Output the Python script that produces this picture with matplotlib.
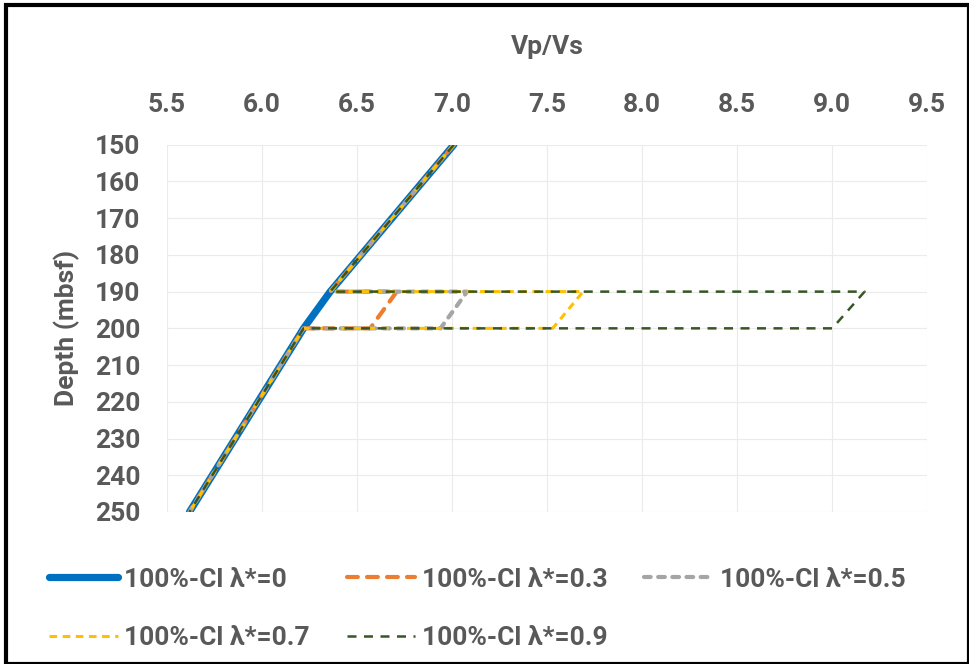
import matplotlib
matplotlib.use("Agg")
import matplotlib.pyplot as plt
from matplotlib.patches import Rectangle

plt.rcParams['font.family'] = ['Roboto', 'DejaVu Sans']

# profundidade (mbsf) e Vp/Vs por caso
depth = [150, 190, 190, 200, 200, 250]
vpvs_00 = [7.01, 6.36, 6.36, 6.22, 6.22, 5.62]
vpvs_03 = [7.01, 6.36, 6.71, 6.57, 6.22, 5.62]
vpvs_05 = [7.01, 6.36, 7.08, 6.94, 6.22, 5.62]
vpvs_07 = [7.01, 6.36, 7.69, 7.53, 6.22, 5.62]
vpvs_09 = [7.01, 6.36, 9.17, 9.00, 6.22, 5.62]

labels = ['100%-Cl λ*=0', '100%-Cl λ*=0.3', '100%-Cl λ*=0.5',
          '100%-Cl λ*=0.7', '100%-Cl λ*=0.9']
xticks = [5.5, 6.0, 6.5, 7.0, 7.5, 8.0, 8.5, 9.0, 9.5]
yticks = list(range(150, 251, 10))

cinza = '#595959'
fs = 19

fig = plt.figure(figsize=(9.69, 6.64), dpi=100)
ax = fig.add_axes([0.172, 0.229, 0.785, 0.553])

l0, = ax.plot(vpvs_00, depth, color='#0070C0', lw=5.2, solid_capstyle='round',
              solid_joinstyle='round', label=labels[0])
l1, = ax.plot(vpvs_03, depth, color='#ED7D31', lw=3.0, dashes=(2.6, 2.2),
              dash_capstyle='round', label=labels[1])
l2, = ax.plot(vpvs_05, depth, color='#A5A5A5', lw=3.0, dashes=(1.6, 1.8),
              dash_capstyle='round', label=labels[2])
l3, = ax.plot(vpvs_07, depth, color='#FFC000', lw=2.2, dashes=(2.5, 1.8),
              label=labels[3])
l4, = ax.plot(vpvs_09, depth, color='#375623', lw=1.8, dashes=(3.6, 3.0),
              label=labels[4])

ax.set_xlim(5.5, 9.5)
ax.set_ylim(250, 150)
ax.set_xticks(xticks)
ax.set_xticklabels(['%.1f' % v for v in xticks])
ax.set_yticks(yticks)
ax.xaxis.tick_top()
ax.xaxis.set_label_position('top')
ax.tick_params(axis='x', length=0, labelsize=fs, labelcolor=cinza, pad=20)
ax.tick_params(axis='y', length=0, labelsize=fs, labelcolor=cinza, pad=19)
for t in ax.get_xticklabels() + ax.get_yticklabels():
    t.set_fontweight('bold')
ax.set_xlabel('Vp/Vs', fontsize=fs, fontweight='bold', color=cinza, labelpad=28)
ax.set_ylabel('Depth (mbsf)', fontsize=fs, fontweight='bold', color=cinza, labelpad=11)
ax.grid(color='#EBEBEB', lw=0.8)
ax.set_axisbelow(True)
for s in ax.spines.values():
    s.set_visible(False)

# ordem para a legenda ficar em duas linhas (3 + 2)
hs = [l0, l3, l1, l4, l2]
leg = fig.legend(hs, [h.get_label() for h in hs], ncol=3, loc='upper left',
                 bbox_to_anchor=(0.026, 0.181), frameon=False, handlelength=2.6,
                 columnspacing=1.4, handletextpad=0.25, labelspacing=1.3,
                 prop={'size': fs, 'weight': 'bold'})
for t in leg.get_texts():
    t.set_color(cinza)

# moldura preta
fig.patches.append(Rectangle((0.006, 0.0), 0.994, 0.993, transform=fig.transFigure,
                             fill=False, edgecolor='black', lw=3))

fig.savefig('out.png', dpi=100)
